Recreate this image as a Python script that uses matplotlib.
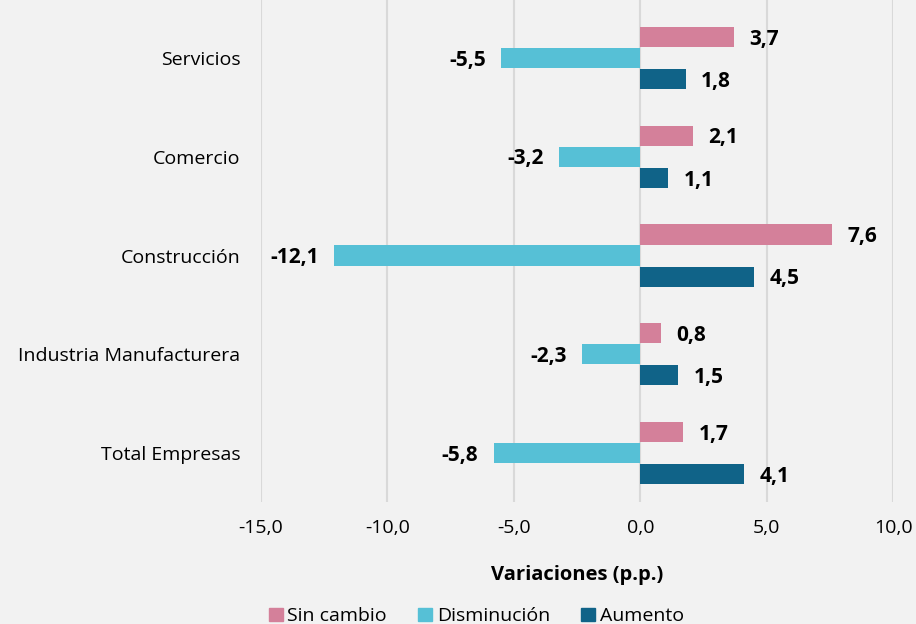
import numpy as np
import matplotlib.pyplot as plt
from matplotlib.patches import Patch

plt.rcParams['font.family'] = ['Open Sans', 'DejaVu Sans']

categorias = ['Total Empresas', 'Industria Manufacturera', 'Construcción', 'Comercio', 'Servicios']
sin_cambio = [1.7, 0.8, 7.6, 2.1, 3.7]
disminucion = [-5.8, -2.3, -12.1, -3.2, -5.5]
aumento = [4.1, 1.5, 4.5, 1.1, 1.8]

series = [('Sin cambio', sin_cambio, '#D4809A'),
          ('Disminución', disminucion, '#56C0D6'),
          ('Aumento', aumento, '#106388')]

bg = '#F2F2F2'
fig = plt.figure(figsize=(9.16, 6.24), dpi=100, facecolor=bg)
ax = fig.add_axes([0.285, 0.195, 0.69, 0.805], facecolor=bg)

y = np.arange(len(categorias))
h = 0.205
offs = [0.213, 0.0, -0.213]
fs = 14

for (nombre, vals, col), off in zip(series, offs):
    bars = ax.barh(y + off, vals, height=h, color=col, zorder=3)
    for b, v in zip(bars, vals):
        txt = f'{v:.1f}'.replace('.', ',')
        if v >= 0:
            ax.annotate(txt, (v, b.get_y() + h / 2), xytext=(11, -1.5), textcoords='offset points',
                        ha='left', va='center', fontsize=15, fontweight='bold')
        else:
            ax.annotate(txt, (v, b.get_y() + h / 2), xytext=(-11, -1.5), textcoords='offset points',
                        ha='right', va='center', fontsize=15, fontweight='bold')

ax.set_xlim(-15, 10)
ax.set_ylim(-0.5, 4.59)
ax.set_xticks(np.arange(-15, 11, 5))
ax.set_xticklabels([f'{t:.1f}'.replace('.', ',') for t in np.arange(-15, 11, 5)], fontsize=fs)
ax.set_yticks(y)
ax.set_yticklabels(categorias, fontsize=fs)
ax.tick_params(axis='x', length=0, pad=12)
ax.tick_params(axis='y', length=0, pad=15)
ax.grid(axis='x', color='#D9D9D9', linewidth=1.5, zorder=0)
for s in ax.spines.values():
    s.set_visible(False)
ax.set_xlabel('Variaciones (p.p.)', fontsize=14.5, fontweight='bold', labelpad=20)

handles = [Patch(color=c, label=n) for n, _, c in series]
fig.legend(handles=handles, loc='lower center', bbox_to_anchor=(0.52, -0.03), ncol=3, frameon=False,
           fontsize=fs, handlelength=0.7, handleheight=0.7, handletextpad=0.25, columnspacing=1.6)

fig.savefig('out.png', dpi=100, facecolor=bg)
